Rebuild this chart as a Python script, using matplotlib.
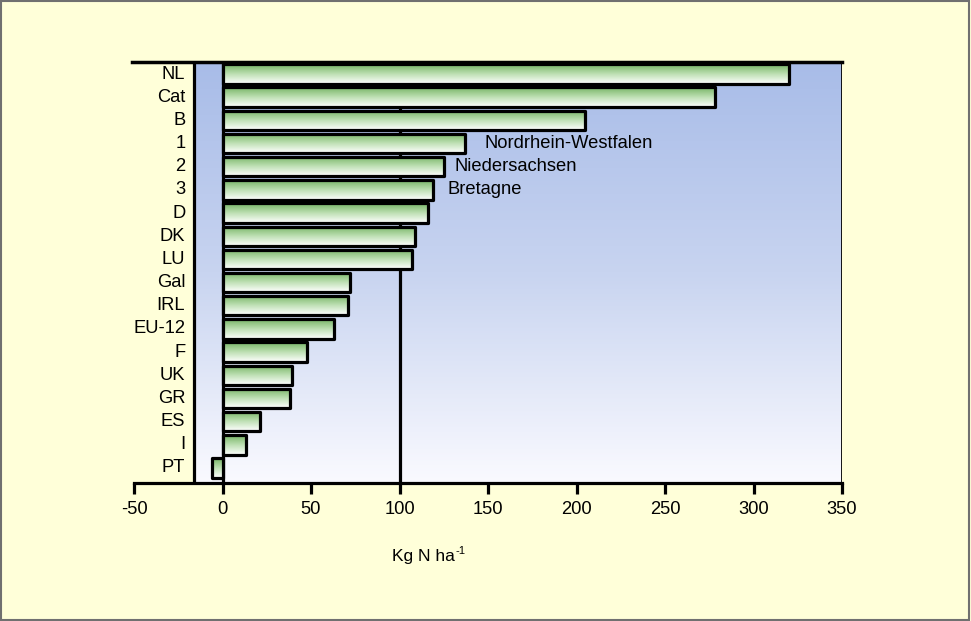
import matplotlib

matplotlib.use("Agg")

import numpy as np
import matplotlib.pyplot as plt
from matplotlib.colors import LinearSegmentedColormap
from matplotlib.patches import Rectangle

plt.rcParams["font.family"] = ["Liberation Sans", "DejaVu Sans"]

regions = ["NL", "Cat", "B", "1", "2", "3", "D", "DK", "LU", "Gal", "IRL",
           "EU-12", "F", "UK", "GR", "ES", "I", "PT"]
surplus = [320, 278, 205, 137, 125, 119, 116, 109, 107, 72, 71, 63, 48,
           39, 38, 21, 13, -6]
notes = {"1": "Nordrhein-Westfalen", "2": "Niedersachsen", "3": "Bretagne"}
xticks = [-50, 0, 50, 100, 150, 200, 250, 300, 350]

FS = 13.2
BG = "#FFFFD9"
fig = plt.figure(figsize=(9.71, 6.21), dpi=100, facecolor=BG)
fig.patches.append(Rectangle((0.001, 0.002), 0.997, 0.996, transform=fig.transFigure,
                             fill=False, edgecolor="#707070", linewidth=1.5))
ax = fig.add_axes([134 / 971, 138 / 621, 708 / 971, 421 / 621])
ax.set_facecolor("none")

ytop, ybot = -0.52, 17.65
xleft = -16

# plot area background: blue at the top fading to white
bg = LinearSegmentedColormap.from_list("bg", ["#A8BCE8", "#C8D4F0", "#FAFAFF"])
ax.imshow(np.linspace(0, 1, 256).reshape(-1, 1), cmap=bg, aspect="auto",
          extent=(xleft, 350, ybot, ytop), zorder=0)

# bars: green-to-white gradient with a heavy black outline
barcm = LinearSegmentedColormap.from_list("bar", ["#76B465", "#BEE0B4", "#FFFFFF"])
grad = np.linspace(0, 1, 64).reshape(-1, 1)
h = 0.84
for i, v in enumerate(surplus):
    x0, x1 = min(0, v), max(0, v)
    ax.imshow(grad, cmap=barcm, aspect="auto",
              extent=(x0, x1, i + h / 2, i - h / 2), zorder=2)
bars = ax.barh(range(len(regions)), surplus, height=h, facecolor="none",
               edgecolor="black", linewidth=2.3, zorder=3)
for b in bars:
    b.set_joinstyle("round")

# reference lines and frame
ax.axvline(0, color="black", linewidth=2.3, zorder=1)
ax.axvline(100, color="black", linewidth=2.3, zorder=1)
ax.plot([xleft, xleft], [ybot, ytop], color="black", linewidth=2.3, zorder=4)
ax.plot([350, 350], [ybot, ytop], color="black", linewidth=2.0, zorder=4)
ax.plot([-51, 350], [ytop, ytop], color="black", linewidth=2.5, zorder=4,
        clip_on=False)

note_x = {"1": 148, "2": 131, "3": 127}
for i, name in enumerate(regions):
    ax.text(-21, i, name, ha="right", va="center", fontsize=FS)
    if name in notes:
        ax.text(note_x[name], i, notes[name], ha="left", va="center", fontsize=FS)

ax.set_xlim(-50, 350)
ax.set_ylim(ybot, ytop)
ax.set_yticks([])
for s in ["top", "right", "left"]:
    ax.spines[s].set_visible(False)
ax.spines["bottom"].set_linewidth(2.3)
ax.set_xticks(xticks)
ax.set_xticklabels([str(t) for t in xticks], fontsize=FS)
ax.tick_params(axis="x", direction="out", length=8, width=2.3, pad=5)

# axis title with a plain hyphen superscript
fig.text(455 / 971, 1 - 557 / 621, "Kg N ha", ha="right", va="center", fontsize=12.5)
fig.text(455 / 971, 1 - 551 / 621, "-1", ha="left", va="center", fontsize=8)

fig.savefig("out.png", dpi=100, facecolor=BG)
